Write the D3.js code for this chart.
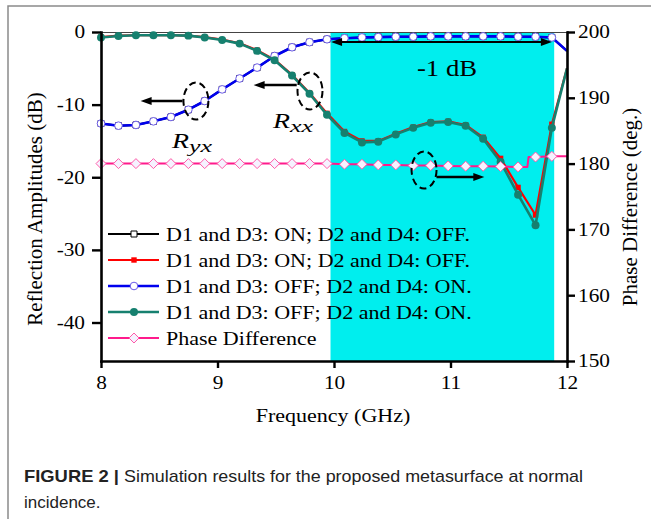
<!DOCTYPE html>
<html>
<head>
<meta charset="utf-8">
<script src="https://cdn.jsdelivr.net/npm/d3@7"></script>
<style>
  body { margin: 0; background: #fff; }
  svg { display: block; }
  text { font-family: "Liberation Serif", "Times New Roman", serif; }
</style>
</head>
<body>
<svg></svg>
<script>
// frequency points (GHz), markers on all but the last one
var freq = [8.00, 8.15, 8.30, 8.45, 8.60, 8.75, 8.89, 9.04, 9.19, 9.34, 9.49, 9.64, 9.79, 9.94,
  10.09, 10.24, 10.38, 10.53, 10.68, 10.83, 10.98, 11.13, 11.28, 11.43, 11.58, 11.73, 11.87, 12.00];

// reflection amplitudes (dB)
var ryxOn  = [-12.6, -12.9, -12.8, -12.3, -11.7, -10.7, -9.5, -7.9, -6.4, -4.9, -3.3, -2.1, -1.4, -1.0,
  -0.85, -0.75, -0.7, -0.65, -0.65, -0.6, -0.6, -0.6, -0.6, -0.6, -0.65, -0.65, -0.75, -2.6];
var rxxOn  = [-0.7, -0.5, -0.45, -0.45, -0.45, -0.5, -0.7, -1.05, -1.55, -2.5, -3.8, -5.9, -8.4, -11.2,
  -13.7, -15.0, -15.0, -14.0, -13.1, -12.4, -12.3, -12.8, -14.5, -17.4, -21.4, -25.2, -12.7, -5.0];
var ryxOff = [-12.6, -12.9, -12.8, -12.3, -11.7, -10.7, -9.5, -7.9, -6.4, -4.9, -3.3, -2.1, -1.4, -1.0,
  -0.85, -0.75, -0.7, -0.65, -0.65, -0.6, -0.6, -0.6, -0.6, -0.6, -0.65, -0.65, -0.75, -2.6];
var rxxOff = [-0.75, -0.55, -0.45, -0.45, -0.45, -0.5, -0.75, -1.1, -1.6, -2.6, -3.9, -6.0, -8.5, -11.4,
  -13.9, -15.2, -15.1, -14.1, -13.2, -12.5, -12.4, -12.9, -14.7, -17.9, -22.4, -26.6, -13.2, -5.0];

// phase difference (deg.), with the small jump near 11.66 GHz
var phaseFreq = [8.00, 8.15, 8.30, 8.45, 8.60, 8.75, 8.89, 9.04, 9.19, 9.34, 9.49, 9.64, 9.79, 9.94,
  10.09, 10.24, 10.38, 10.53, 10.68, 10.83, 10.98, 11.13, 11.28, 11.43, 11.58, 11.66, 11.67, 11.73, 11.87, 12.00];
var phase = [180.0, 180.0, 180.0, 180.0, 180.0, 180.0, 180.0, 180.0, 180.0, 180.0, 180.0, 180.0, 180.0, 180.0,
  179.9, 179.9, 179.8, 179.8, 179.7, 179.7, 179.65, 179.6, 179.6, 179.55, 179.5, 179.5, 181.0, 181.0, 181.1, 181.1];

var cyanBand = [9.97, 11.89];
var xTicks = [8, 9, 10, 11, 12];
var yTicks = [0, -10, -20, -30, -40];
var y2Ticks = [150, 160, 170, 180, 190, 200];
var legendLabels = [
  'D1 and D3: ON; D2 and D4: OFF.',
  'D1 and D3: ON; D2 and D4: OFF.',
  'D1 and D3: OFF; D2 and D4: ON.',
  'D1 and D3: OFF; D2 and D4: ON.',
  'Phase Difference'
];

var W = 651, H = 519;
var margin = { top: 32, right: 84, bottom: 158, left: 101 };
var width = W - margin.left - margin.right,
    height = H - margin.top - margin.bottom;

var svg = d3.select('svg').attr('width', W).attr('height', H);

// stretch text a bit wider, the original figure is squeezed sideways
function stretch(sel, k) {
  sel.each(function() {
    var w = this.getComputedTextLength();
    d3.select(this).attr('textLength', w * k).attr('lengthAdjust', 'spacingAndGlyphs');
  });
}

// gray page frame
svg.append('path')
  .attr('d', 'M8,519V6H651')
  .attr('fill', 'none')
  .attr('stroke', '#8a8a8a')
  .attr('stroke-width', 1.5);

var g = svg.append('g')
  .attr('transform', 'translate(' + margin.left + ',' + margin.top + ')');

var x = d3.scaleLinear().domain([8, 12]).range([0, width]);
var y0 = d3.scaleLinear().domain([-45.3, 0]).range([height, 0]);
var y1 = d3.scaleLinear().domain([150, 200]).range([height, 0]);

// cyan band
g.append('rect')
  .attr('x', x(cyanBand[0]))
  .attr('width', x(cyanBand[1]) - x(cyanBand[0]))
  .attr('y', 0)
  .attr('height', height)
  .attr('fill', '#00eeee');

// top border
g.append('line')
  .attr('x1', 0).attr('x2', width)
  .attr('y1', 0.5).attr('y2', 0.5)
  .attr('stroke', '#444').attr('stroke-width', 1);

var markFreq = freq.slice(0, freq.length - 1);

function markerPath(type) {
  if (type == 'square-open') return 'M-3,-3H3V3H-3Z';
  if (type == 'square') return 'M-2.7,-2.7H2.7V2.7H-2.7Z';
  if (type == 'diamond') return 'M0,-5L5,0L0,5L-5,0Z';
  return d3.symbol().type(d3.symbolCircle).size(type == 'circle' ? 50 : 46)();
}

var series = [
  { f: freq, v: ryxOn, y: y0, color: '#000000', lw: 2, marker: 'square-open', fill: '#ffffff', stroke: '#000000' },
  { f: freq, v: rxxOn, y: y0, color: '#ff0000', lw: 2.2, marker: 'square', fill: '#ff0000', stroke: 'none' },
  { f: freq, v: ryxOff, y: y0, color: '#0000ee', lw: 2.6, marker: 'circle-open', fill: '#ffffff', stroke: '#6a5ae8' },
  { f: freq, v: rxxOff, y: y0, color: '#16806f', lw: 2.6, marker: 'circle', fill: '#16806f', stroke: 'none' },
  { f: phaseFreq, v: phase, y: y1, color: '#ff1a8c', lw: 2, marker: 'diamond', fill: '#f6f2ff', stroke: '#ff5aa8' }
];

series.forEach(function(s) {
  var pts = s.f.map(function(f, i) { return { f: f, v: s.v[i] }; });
  var line = d3.line()
    .x(function(d) { return x(d.f); })
    .y(function(d) { return s.y(d.v); });

  g.append('path')
    .datum(pts)
    .attr('d', line)
    .attr('fill', 'none')
    .attr('stroke', s.color)
    .attr('stroke-width', s.lw)
    .attr('stroke-linejoin', 'round');

  g.selectAll(null)
    .data(pts.filter(function(d) { return markFreq.indexOf(d.f) >= 0; }))
    .enter()
    .append('path')
    .attr('d', markerPath(s.marker))
    .attr('transform', function(d) { return 'translate(' + x(d.f) + ',' + s.y(d.v) + ')'; })
    .attr('fill', s.fill)
    .attr('stroke', s.stroke)
    .attr('stroke-width', 1);
});

// annotations (data coordinates)
var arrows = [
  { x1: 8.70, x2: 8.34, v: -9.5 },
  { x1: 9.68, x2: 9.31, v: -7.3 },
  { x1: 10.88, x2: 11.29, v: -19.96 }
];
var ellipses = [
  { f: 8.815, v: -9.5 },
  { f: 9.794, v: -8.12 },
  { f: 10.773, v: -19.0 }
];

function arrowHead(px, py, dir) {
  return 'M' + px + ',' + py + 'L' + (px - dir * 11) + ',' + (py - 4) + 'L' + (px - dir * 11) + ',' + (py + 4) + 'Z';
}

arrows.forEach(function(a) {
  var dir = a.x2 > a.x1 ? 1 : -1;
  var py = y0(a.v);
  g.append('line')
    .attr('x1', x(a.x1)).attr('x2', x(a.x2) - dir * 8)
    .attr('y1', py).attr('y2', py)
    .attr('stroke', '#000').attr('stroke-width', 2.4);
  g.append('path').attr('d', arrowHead(x(a.x2), py, dir)).attr('fill', '#000');
});

g.selectAll('.ring')
  .data(ellipses)
  .enter()
  .append('ellipse')
  .attr('class', 'ring')
  .attr('cx', function(d) { return x(d.f); })
  .attr('cy', function(d) { return y0(d.v); })
  .attr('rx', 12.5)
  .attr('ry', 18.5)
  .attr('fill', 'none')
  .attr('stroke', '#000')
  .attr('stroke-width', 2)
  .attr('stroke-dasharray', '7,4');

// -1 dB double arrow
var bandY = y0(-1.38);
g.append('line')
  .attr('x1', x(9.975) + 8).attr('x2', x(11.87) - 8)
  .attr('y1', bandY).attr('y2', bandY)
  .attr('stroke', '#000').attr('stroke-width', 2);
g.append('path').attr('d', arrowHead(x(9.975), bandY, -1)).attr('fill', '#000');
g.append('path').attr('d', arrowHead(x(11.87), bandY, 1)).attr('fill', '#000');

g.append('text')
  .attr('x', x(10.97)).attr('y', y0(-6.06))
  .attr('text-anchor', 'middle')
  .style('font-size', '23px')
  .text('-1 dB')
  .call(stretch, 1.16);

// R_yx and R_xx labels
function rLabel(f, v, sub) {
  var px = x(f), py = y0(v);
  g.append('text')
    .attr('x', px).attr('y', py)
    .style('font-size', '21px').style('font-style', 'italic')
    .text('R')
    .attr('textLength', 17).attr('lengthAdjust', 'spacingAndGlyphs');
  g.append('text')
    .attr('x', px + 17).attr('y', py + 4)
    .style('font-size', '16px').style('font-style', 'italic')
    .text(sub)
    .attr('textLength', 23).attr('lengthAdjust', 'spacingAndGlyphs');
}
rLabel(8.61, -15.97, 'yx');
rLabel(9.476, -13.26, 'xx');

// axes
var xAxis = d3.axisBottom(x).tickValues(xTicks).tickSize(7).tickSizeOuter(0).tickPadding(8)
  .tickFormat(function(d) { return String(d); });
var yAxisLeft = d3.axisLeft(y0).tickValues(yTicks).tickSize(9).tickSizeOuter(0).tickPadding(7)
  .tickFormat(function(d) { return String(d); });
var yAxisRight = d3.axisRight(y1).tickValues(y2Ticks).tickSize(8).tickSizeOuter(0).tickPadding(3)
  .tickFormat(function(d) { return String(d); });

function styleAxis(sel) {
  sel.attr('font-family', null).attr('font-size', null);
  sel.select('.domain').attr('stroke', '#000').attr('stroke-width', 2.6).attr('stroke-linecap', 'square');
  sel.selectAll('.tick line').attr('stroke', '#000').attr('stroke-width', 2.4);
  sel.selectAll('.tick text').attr('fill', '#000').style('font-size', '18.5px').call(stretch, 1.15);
}

g.append('g').attr('class', 'x axis')
  .attr('transform', 'translate(0,' + height + ')')
  .call(xAxis).call(styleAxis);

g.append('g').attr('class', 'y axis axisLeft')
  .call(yAxisLeft).call(styleAxis);

g.append('g').attr('class', 'y axis axisRight')
  .attr('transform', 'translate(' + width + ',0)')
  .call(yAxisRight).call(styleAxis);

// axis titles
g.append('text')
  .attr('x', width / 2 - 1).attr('y', 422 - margin.top)
  .attr('text-anchor', 'middle')
  .style('font-size', '18.5px')
  .text('Frequency (GHz)')
  .call(stretch, 1.19);

svg.append('text')
  .attr('transform', 'translate(42,209) rotate(-90)')
  .attr('text-anchor', 'middle')
  .style('font-size', '21px')
  .text('Reflection Amplitudes (dB)');

svg.append('text')
  .attr('transform', 'translate(637,207) rotate(-90)')
  .attr('text-anchor', 'middle')
  .style('font-size', '21px')
  .text('Phase Difference (deg.)');

// legend
var legend = g.append('g').attr('class', 'legend').attr('transform', 'translate(0,202)');
series.forEach(function(s, i) {
  var row = legend.append('g').attr('transform', 'translate(0,' + (i * 26) + ')');
  row.append('line')
    .attr('x1', 7).attr('x2', 58)
    .attr('stroke', s.color).attr('stroke-width', s.lw);
  row.append('path')
    .attr('d', markerPath(s.marker))
    .attr('transform', 'translate(33,0)')
    .attr('fill', s.fill)
    .attr('stroke', s.stroke)
    .attr('stroke-width', 1);
  row.append('text')
    .attr('x', 65).attr('y', 6.5)
    .style('font-size', '18.5px')
    .text(legendLabels[i])
    .call(stretch, 1.19);
});

// caption
var cap = svg.append('g').style('font-family', '"Liberation Sans", Arial, sans-serif').attr('fill', '#222');
cap.append('text')
  .attr('x', 24).attr('y', 482)
  .style('font-family', 'inherit').style('font-size', '17px').style('font-weight', 'bold')
  .text('FIGURE 2 |')
  .attr('textLength', 95).attr('lengthAdjust', 'spacingAndGlyphs');
cap.append('text')
  .attr('x', 124).attr('y', 482)
  .style('font-family', 'inherit').style('font-size', '17px')
  .text('Simulation results for the proposed metasurface at normal')
  .attr('textLength', 459).attr('lengthAdjust', 'spacingAndGlyphs');
cap.append('text')
  .attr('x', 24).attr('y', 508)
  .style('font-family', 'inherit').style('font-size', '17px')
  .text('incidence.');
</script>
</body>
</html>
